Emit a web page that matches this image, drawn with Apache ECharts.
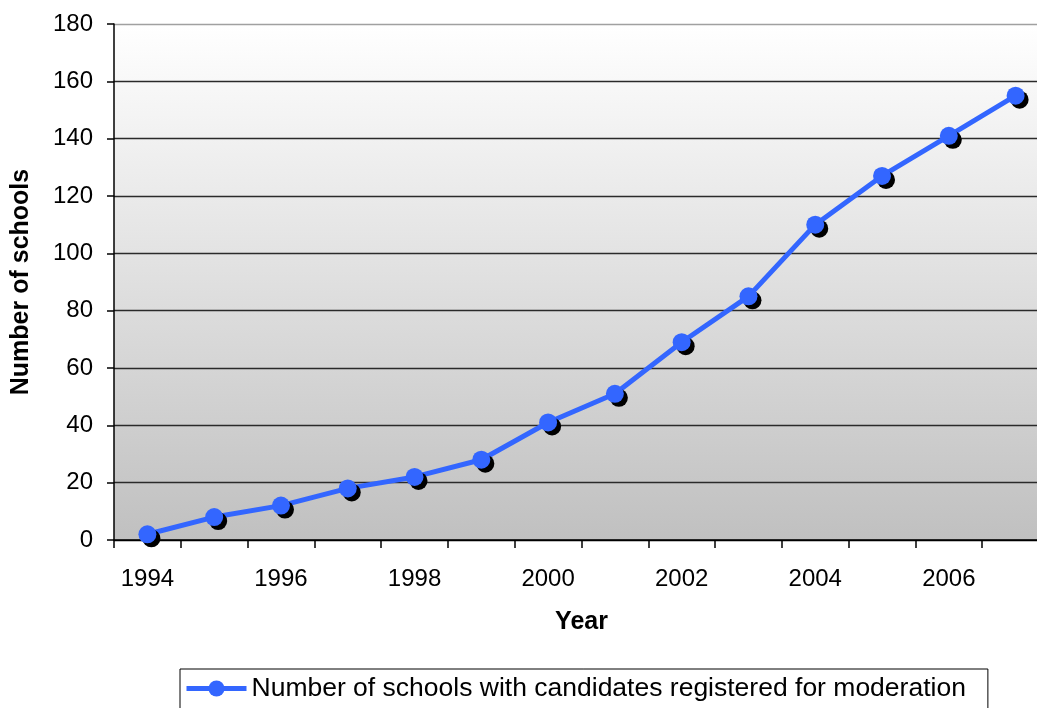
<!DOCTYPE html>
<html>
<head>
<meta charset="utf-8">
<script src="https://cdn.jsdelivr.net/npm/echarts@6/dist/echarts.min.js"></script>
<style>
html,body{margin:0;padding:0;background:#fff;}
#c{width:1037px;height:708px;}
</style>
</head>
<body>
<div id="c"></div>
<script>
const years = ['1994','1995','1996','1997','1998','1999','2000','2001','2002','2003','2004','2005','2006','2007'];
const schools = [2, 8, 12, 18, 22, 28, 41, 51, 69, 85, 110, 127, 141, 155];
const seriesName = 'Number of schools with candidates registered for moderation';
const yTicks = {min: 0, max: 180, interval: 20};

const chart = echarts.init(document.getElementById('c'));
const font = 'Liberation Sans, Arial, sans-serif';
chart.setOption({
  animation: false,
  textStyle: {fontFamily: font},
  grid: {
    left: 114, right: -12, top: 24, bottom: 168,
    outerBoundsMode: 'none',
    containLabel: false,
    show: true,
    borderWidth: 0,
    backgroundColor: new echarts.graphic.LinearGradient(0, 0, 0, 1, [
      {offset: 0, color: '#ffffff'},
      {offset: 1, color: '#c0c0c0'}
    ])
  },
  legend: {
    data: [seriesName],
    left: 180,
    top: 669,
    itemWidth: 60,
    itemHeight: 20,
    itemGap: 0,
    padding: [6, 22, 8, 4],
    borderColor: '#000',
    borderWidth: 1,
    borderRadius: 0,
    lineStyle: {width: 5, color: '#3366ff'},
    itemStyle: {shadowColor: 'rgba(0,0,0,0)', shadowBlur: 0, shadowOffsetX: 0, shadowOffsetY: 0},
    textStyle: {fontSize: 26.5, color: '#000', fontFamily: font, padding: [0,0,0,0]}
  },
  xAxis: {
    type: 'category',
    data: years,
    boundaryGap: true,
    name: 'Year',
    nameLocation: 'middle',
    nameGap: 70,
    nameTextStyle: {fontSize: 25, fontWeight: 'bold', color: '#000'},
    axisLine: {lineStyle: {color: '#000', width: 1.5}},
    axisTick: {show: true, length: 8, inside: false, alignWithLabel: false, interval: 0, lineStyle: {color: '#000', width: 1.5}},
    axisLabel: {interval: 1, fontSize: 24, color: '#000', margin: 27}
  },
  yAxis: {
    type: 'value',
    min: yTicks.min, max: yTicks.max, interval: yTicks.interval,
    name: 'Number of schools',
    nameLocation: 'middle',
    nameGap: 80,
    nameRotate: 90,
    nameTextStyle: {fontSize: 25, fontWeight: 'bold', color: '#000'},
    axisLine: {show: true, lineStyle: {color: '#000', width: 1.5}},
    axisTick: {show: true, length: 7, lineStyle: {color: '#000', width: 1.5}},
    axisLabel: {fontSize: 24, color: '#000', margin: 21},
    splitLine: {show: true, lineStyle: {color: ['#000','#2a2a2a','#2a2a2a','#2a2a2a','#2a2a2a','#2a2a2a','#2a2a2a','#2a2a2a','#2a2a2a','#a0a0a0'], width: 1.4}}
  },
  series: [{
    name: seriesName,
    type: 'line',
    data: schools,
    symbol: 'circle',
    symbolSize: 18,
    color: '#3366ff',
    lineStyle: {color: '#3366ff', width: 5},
    itemStyle: {color: '#3366ff', shadowColor: '#000', shadowBlur: 0, shadowOffsetX: 4, shadowOffsetY: 4}
  }]
});
</script>
</body>
</html>
